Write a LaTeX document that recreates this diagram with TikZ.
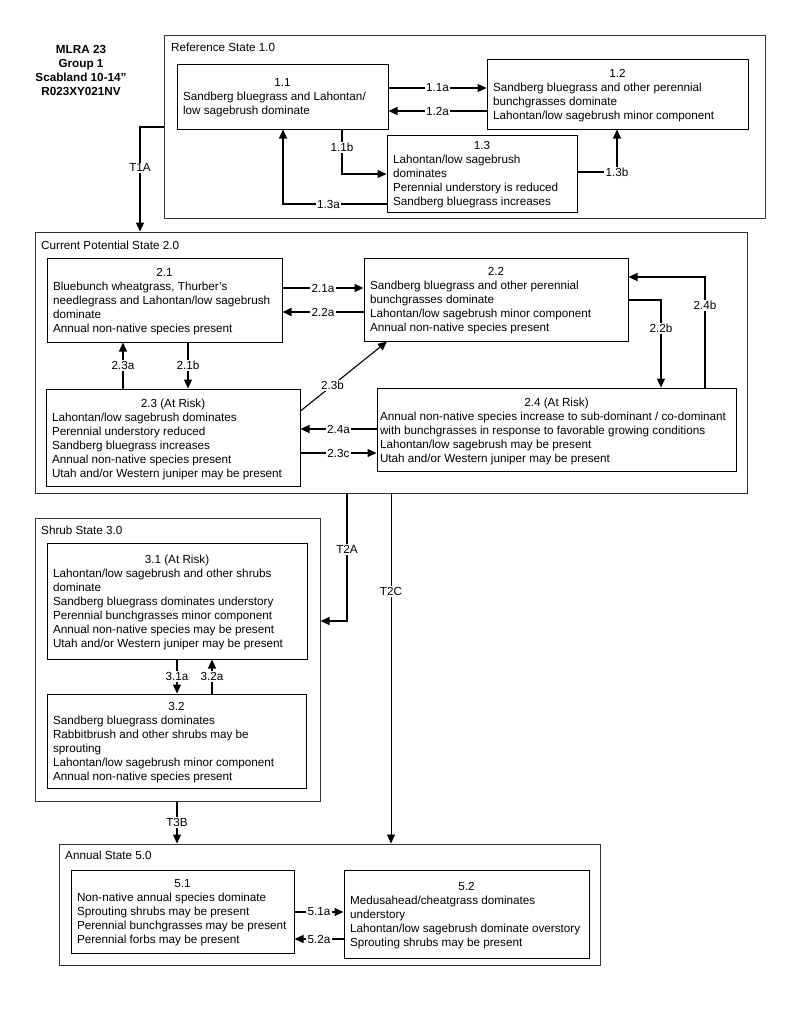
\documentclass[tikz,border=0pt]{standalone}
\usepackage{fontspec}
\setmainfont{Liberation Sans}
\usetikzlibrary{arrows.meta,calc}
\newcommand\fs{\fontsize{11.7}{14}\selectfont}
\newcommand\ttl[1]{\vspace*{3pt}\makebox[\linewidth]{#1}\\}
% box from corners (x1,y1)-(x2,y2)
\newcommand\cb[7][cbox]{\node[#1, minimum width={#5-#3}, minimum height={#6-#4}] (#2) at ({(#3+#5)/2},{(#4+#6)/2}) {#7};}
\begin{document}
\begin{tikzpicture}[x=1pt,y=-1pt,
  sbox/.style={draw=black!80, line width=1pt, inner sep=0pt},
  stlabel/.style={anchor=west, inner sep=0pt, font=\fs},
  cbox/.style={draw=black, line width=1pt, inner sep=0pt, font=\fs},
  arr/.style={line width=1.1pt, -{Triangle[length=9pt,width=8pt]}},
  lbl/.style={fill=white, inner sep=1.2pt, font=\fs}
]
\useasboundingbox (0,0) rectangle (800,1036);

% title
\node[align=center, font=\fontsize{11.7}{14}\selectfont\bfseries] (title) at (81,70.5) {MLRA 23\\Group 1\\Scabland 10-14\symbol{34}\\R023XY021NV};

% state boxes
\cb[sbox]{S1}{164}{35}{765}{218}{}
\node[stlabel] (S1l) at (171,47) {Reference State 1.0};
\cb[sbox]{S2}{35}{232}{747}{493}{}
\node[stlabel] (S2l) at (41,245) {Current Potential State 2.0};
\cb[sbox]{S3}{35}{518}{320}{801}{}
\node[stlabel] (S3l) at (41,530) {Shrub State 3.0};
\cb[sbox]{S5}{59}{844}{600}{965}{}
\node[stlabel] (S5l) at (65,855) {Annual State 5.0};

% community boxes
\cb{b11}{177}{64}{388}{129}{\begin{minipage}{199pt}\ttl{1.1}Sandberg bluegrass and Lahontan/\\low sagebrush dominate\end{minipage}}
\cb{b12}{487}{59}{748}{129}{\begin{minipage}{249pt}\ttl{1.2}Sandberg bluegrass and other perennial\\bunchgrasses dominate\\Lahontan/low sagebrush minor component\end{minipage}}
\cb{b13}{387}{135}{577}{212}{\begin{minipage}{178pt}\ttl{1.3}Lahontan/low sagebrush\\dominates\\Perennial understory is reduced\\Sandberg bluegrass increases\end{minipage}}

\cb{b21}{47}{258}{282}{342}{\begin{minipage}{223pt}\ttl{2.1}Bluebunch wheatgrass, Thurber’s\\needlegrass and Lahontan/low sagebrush\\dominate\\Annual non-native species present\end{minipage}}
\cb{b22}{364}{258}{628}{341}{\begin{minipage}{252pt}\ttl{2.2}Sandberg bluegrass and other perennial\\bunchgrasses dominate\\Lahontan/low sagebrush minor component\\Annual non-native species present\end{minipage}}
\cb{b23}{46}{389}{300}{486}{\begin{minipage}{242pt}\ttl{2.3 (At Risk)}Lahontan/low sagebrush dominates\\Perennial understory reduced\\Sandberg bluegrass increases\\Annual non-native species present\\Utah and/or Western juniper may be present\end{minipage}}
\cb{b24}{377}{388}{736}{471}{\begin{minipage}{353pt}\ttl{2.4 (At Risk)}\mbox{Annual non-native species increase to sub-dominant / co-dominant}\\\mbox{with bunchgrasses in response to favorable growing conditions}\\Lahontan/low sagebrush may be present\\Utah and/or Western juniper may be present\end{minipage}}

\cb{b31}{47}{543}{307}{659}{\begin{minipage}{248pt}\ttl{3.1 (At Risk)}Lahontan/low sagebrush and other shrubs\\dominate\\Sandberg bluegrass dominates understory\\Perennial bunchgrasses minor component\\Annual non-native species may be present\\Utah and/or Western juniper may be present\end{minipage}}
\cb{b32}{47}{694}{306}{788}{\begin{minipage}{247pt}\ttl{3.2}Sandberg bluegrass dominates\\Rabbitbrush and other shrubs may be\\sprouting\\Lahontan/low sagebrush minor component\\Annual non-native species present\end{minipage}}

\cb{b51}{71}{870}{294}{953}{\begin{minipage}{211pt}\ttl{5.1}Non-native annual species dominate\\Sprouting shrubs may be present\\Perennial bunchgrasses may be present\\Perennial forbs may be present\end{minipage}}
\cb{b52}{344}{870}{589}{958}{\begin{minipage}{233pt}\ttl{5.2}Medusahead/cheatgrass dominates\\understory\\Lahontan/low sagebrush dominate overstory\\Sprouting shrubs may be present\end{minipage}}

% connectors state 1
\draw[arr] (b11.east |- 0,88) -- node[lbl]{1.1a} (b12.west |- 0,88);
\draw[arr] (b12.west |- 0,111) -- node[lbl]{1.2a} (b11.east |- 0,111);
\draw[arr] (b11.south -| 342,0) |- node[lbl, pos=0.2]{1.1b} (b13.west |- 0,174);
\draw[arr] (b13.west |- 0,204) -| node[lbl, pos=0.28]{1.3a} (b11.south -| 283,0);
\draw[arr] (b13.east |- 0,172) -| node[lbl, pos=0.5]{1.3b} (b12.south -| 617,0);
\draw[arr] (S1.west |- 0,127) -| node[lbl, pos=0.695]{T1A} (S2.north -| 140,0);

% connectors state 2
\draw[arr] (b21.east |- 0,288) -- node[lbl]{2.1a} (b22.west |- 0,288);
\draw[arr] (b22.west |- 0,312) -- node[lbl]{2.2a} (b21.east |- 0,312);
\draw[arr] (b23.north -| 123,0) -- node[lbl]{2.3a} (b21.south -| 123,0);
\draw[arr] (b21.south -| 188,0) -- node[lbl]{2.1b} (b23.north -| 188,0);
\draw[arr] (b23.east |- 0,411) -- node[lbl, pos=0.37]{2.3b} (b22.south -| 387,0);
\draw[arr] (b24.west |- 0,429) -- node[lbl]{2.4a} (b23.east |- 0,429);
\draw[arr] (b23.east |- 0,453) -- node[lbl]{2.3c} (b24.west |- 0,453);
\draw[arr] (b22.east |- 0,300) -| node[lbl, pos=0.66]{2.2b} (b24.north -| 661,0);
\draw[arr] (b24.north -| 705,0) |- node[lbl, pos=0.37]{2.4b} (b22.east |- 0,277);

% transitions
\draw[arr] (S2.south -| 347,0) |- node[lbl, pos=0.22]{T2A} (S3.east |- 0,621);
\draw[line width=0.8pt, -{Triangle[length=9pt,width=8pt]}] (S2.south -| 391,0) -- node[lbl, pos=0.28]{T2C} (S5.north -| 391,0);
\draw[arr] (S3.south -| 177,0) -- node[lbl]{T3B} (S5.north -| 177,0);

% state 3
\draw[arr] (b31.south -| 177,0) -- node[lbl]{3.1a} (b32.north -| 177,0);
\draw[arr] (b32.north -| 212,0) -- node[lbl]{3.2a} (b31.south -| 212,0);

% state 5
\draw[arr] (b51.east |- 0,912) -- node[lbl]{5.1a} (b52.west |- 0,912);
\draw[arr] (b52.west |- 0,939) -- node[lbl]{5.2a} (b51.east |- 0,939);
\end{tikzpicture}
\end{document}
